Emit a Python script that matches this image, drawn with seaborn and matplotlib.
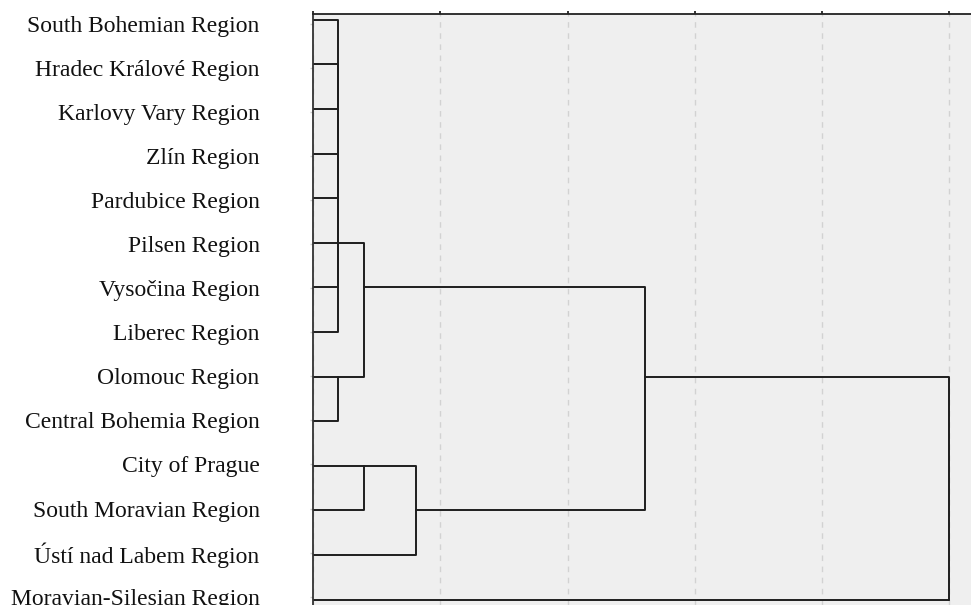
import pandas as pd
import seaborn as sns
import matplotlib.pyplot as plt

# Leaves, top to bottom
leaf_labels = [
    "South Bohemian Region", "Hradec Králové Region", "Karlovy Vary Region",
    "Zlín Region", "Pardubice Region", "Pilsen Region", "Vysočina Region",
    "Liberec Region", "Olomouc Region", "Central Bohemia Region",
    "City of Prague", "South Moravian Region", "Ústí nad Labem Region",
    "Moravian-Silesian Region",
]

# Internal nodes: merge height, row the node sits on, children
node_names = ["A", "C", "B", "F", "E", "D", "R"]
node_heights = [2.0, 2.0, 4.0, 4.0, 8.1, 26.1, 50.0]
node_rows = [5, 8, 6, 10, 11, 8, 13]
node_children = [
    leaf_labels[0:8],
    ["Olomouc Region", "Central Bohemia Region"],
    ["A", "C"],
    ["City of Prague", "South Moravian Region"],
    ["F", "Ústí nad Labem Region"],
    ["B", "E"],
    ["D", "Moravian-Silesian Region"],
]

# position of every leaf / node (height, row)
pos = {lab: (0.0, i) for i, lab in enumerate(leaf_labels)}
for n, h, r in zip(node_names, node_heights, node_rows):
    pos[n] = (h, r)

# elbow from child to parent
rows = []
edge = 0
for n, kids in zip(node_names, node_children):
    ph, pr = pos[n]
    for k in kids:
        ch, cr = pos[k]
        rows += [(edge, ch, cr), (edge, ph, cr), (edge, ph, pr)]
        edge += 1
df = pd.DataFrame(rows, columns=["edge", "height", "row"])

sns.set_style("white")
plt.rcParams["font.family"] = ["Liberation Serif", "DejaVu Serif"]

fig = plt.figure(figsize=(9.71, 6.05), dpi=100)
ax = fig.add_axes([313 / 971, 0, 658 / 971, 1 - 14 / 605])
ax.set_facecolor("#efefef")

sns.lineplot(data=df, x="height", y="row", units="edge", estimator=None,
             sort=False, color="#1e1e1e", linewidth=1.4, ax=ax)

ax.set_xlim(0, 51.7)
ax.set_ylim(13.12, -0.13)
ax.set_xticks([0, 10, 20, 30, 40, 50])
ax.xaxis.tick_top()
ax.tick_params(axis="x", length=2.5, width=1.2, color="#111111", labeltop=False, labelbottom=False)
ax.grid(axis="x", linestyle=(0, (4, 4)), color="#d2d2d2", linewidth=1)

# labels sit on a slightly tighter band than the branches
n = len(leaf_labels)
ax.set_yticks([0.09 + i * 0.988 for i in range(n)])
ax.set_yticklabels(leaf_labels, fontsize=17, color="#111111")
ax.tick_params(axis="y", left=True, length=2.5, width=1, color="#cccccc", pad=36)
ax.set_xlabel("")
ax.set_ylabel("")

for s in ["right", "bottom"]:
    ax.spines[s].set_visible(False)
ax.spines["top"].set_color("#222222")
ax.spines["top"].set_linewidth(1.3)
ax.spines["left"].set_color("#333333")
ax.spines["left"].set_linewidth(1.3)

fig.savefig("out.png", dpi=100)
